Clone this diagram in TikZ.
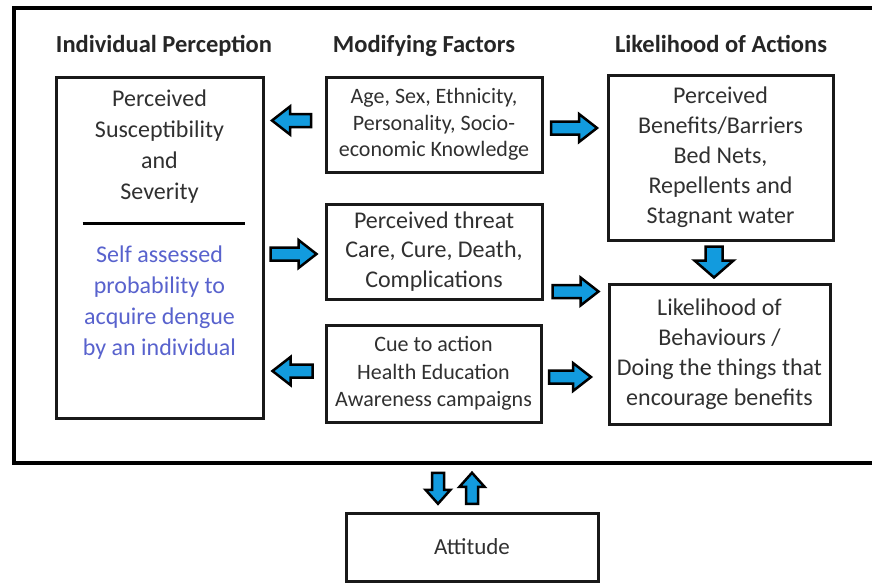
\documentclass[tikz,border=0pt]{standalone}
\usepackage{fontspec}
\setmainfont{Carlito}
\usetikzlibrary{calc}
\definecolor{arrowblue}{RGB}{18,155,222}
\definecolor{bodygray}{RGB}{48,48,48}
\definecolor{noteblue}{RGB}{88,98,205}

\begin{document}
\begin{tikzpicture}[x=1pt,y=1pt,
  box/.style={draw=black!90, line width=3pt, inner sep=0pt},
  heading/.style={font=\fontsize{24.5}{29}\selectfont\bfseries, text=black!85, anchor=base},
  bigtext/.style={font=\fontsize{24}{30}\selectfont, text=bodygray, align=center},
  midtext/.style={font=\fontsize{22}{27}\selectfont, text=bodygray, align=center},
  arrowfill/.style={draw=black, line width=2.5pt, fill=arrowblue, line join=miter},
  blk len/.store in=\blkLen, blk head/.store in=\blkHead,
  blk wid/.store in=\blkWid, blk shaft/.store in=\blkShaft,
  blk len=20, blk head=18, blk wid=14, blk shaft=6.5,
  % block arrow pointing along +x, centred on the pic origin
  fat arrow/.pic={
    \draw[arrowfill] (-\blkLen,-\blkShaft) -- ({\blkLen-\blkHead},-\blkShaft)
      -- ({\blkLen-\blkHead},-\blkWid) -- (\blkLen,0) -- ({\blkLen-\blkHead},\blkWid)
      -- ({\blkLen-\blkHead},\blkShaft) -- (-\blkLen,\blkShaft) -- cycle;
  }
]
\useasboundingbox (0,0) rectangle (872,-584);
\clip (0,0) rectangle (872,-584);

% outer frame (runs off the right edge)
\node[draw, line width=4pt, inner sep=0pt, minimum width=876, minimum height=455] (frame) at (452,-235.5) {};

% column headings
\node[heading] (hL) at (164,-52.5) {Individual Perception};
\node[heading] (hM) at (424,-52.5) {Modifying Factors};
\node[heading] (hR) at (721,-52.5) {Likelihood of Actions};

% individual perception
\node[box, minimum width=207, minimum height=341] (L) at (159.5,-247.5) {};
\node[bigtext, font=\fontsize{24}{31}\selectfont] (Ltop) at (159.5,-147) {Perceived\\Susceptibility\\and\\Severity};
\draw[line width=2.5pt] ($(L.north west)+(28,-148)$) -- ($(L.north east)+(-20,-148)$);
\node[bigtext, font=\fontsize{24}{31}\selectfont, text=noteblue] (Lbot) at (159.5,-303) {Self assessed\\probability to\\acquire dengue\\by an individual};

% modifying factors
\node[box, minimum width=216, minimum height=95, midtext, font=\fontsize{22}{26.5}\selectfont] (M1) at (434,-124.5) {Age, Sex, Ethnicity,\\Personality, Socio-\\economic Knowledge};
\node[box, minimum width=216, minimum height=95, bigtext, font=\fontsize{24}{29.5}\selectfont] (M2) at (434,-251.5) {Perceived threat\\Care, Cure, Death,\\Complications};
\node[box, minimum width=215, minimum height=97, midtext, font=\fontsize{22}{27.5}\selectfont] (M3) at (433.5,-373.5) {Cue to action\\Health Education\\Awareness campaigns};

% likelihood of actions
\node[box, minimum width=225, minimum height=165, bigtext] (R1) at (720.5,-157.5) {Perceived\\Benefits/Barriers\\Bed Nets,\\Repellents and\\Stagnant water};
\node[box, minimum width=221, minimum height=140, bigtext] (R2) at (719.5,-354) {Likelihood of\\Behaviours /\\Doing the things that\\encourage benefits};

% attitude
\node[box, minimum width=252, minimum height=68, font=\fontsize{23}{28}\selectfont, text=bodygray] (A) at (472,-547) {Attitude};

% block arrows
\pic[rotate=180, blk len=19.5] at ($(L.east |- M1.west)!0.5!(M1.west) + (-3,4)$) {fat arrow};
\pic[blk len=23] at ($(L.east |- M2.west)!0.5!(M2.west) + (-1,-2.5)$) {fat arrow};
\pic[rotate=180, blk len=20] at ($(L.east |- M3.west)!0.5!(M3.west) + (-2,2.5)$) {fat arrow};
\pic[blk len=23] at ($(M1.east)!0.5!(R1.west |- M1.east) + (-1,-3.5)$) {fat arrow};
\pic[blk len=23] at ($(M2.south east)!0.5!(R2.north west)$) {fat arrow};
\pic[blk len=21] at ($(M3.east)!0.5!(R2.west |- M3.east) + (-5,-3.5)$) {fat arrow};
\pic[rotate=-90, blk len=15.5, blk head=17, blk wid=19.5, blk shaft=8.5] at ($(R1.south)!0.5!(R2.north) + (-6,0)$) {fat arrow};
\pic[rotate=-90, blk len=15.5, blk head=14, blk wid=12.5, blk shaft=6] at ($(frame.south -| A.north)!0.5!(A.north) + (-34,0)$) {fat arrow};
\pic[rotate=90, blk len=15.5, blk head=14, blk wid=12.5, blk shaft=6] at ($(frame.south -| A.north)!0.5!(A.north)$) {fat arrow};
\end{tikzpicture}
\end{document}
